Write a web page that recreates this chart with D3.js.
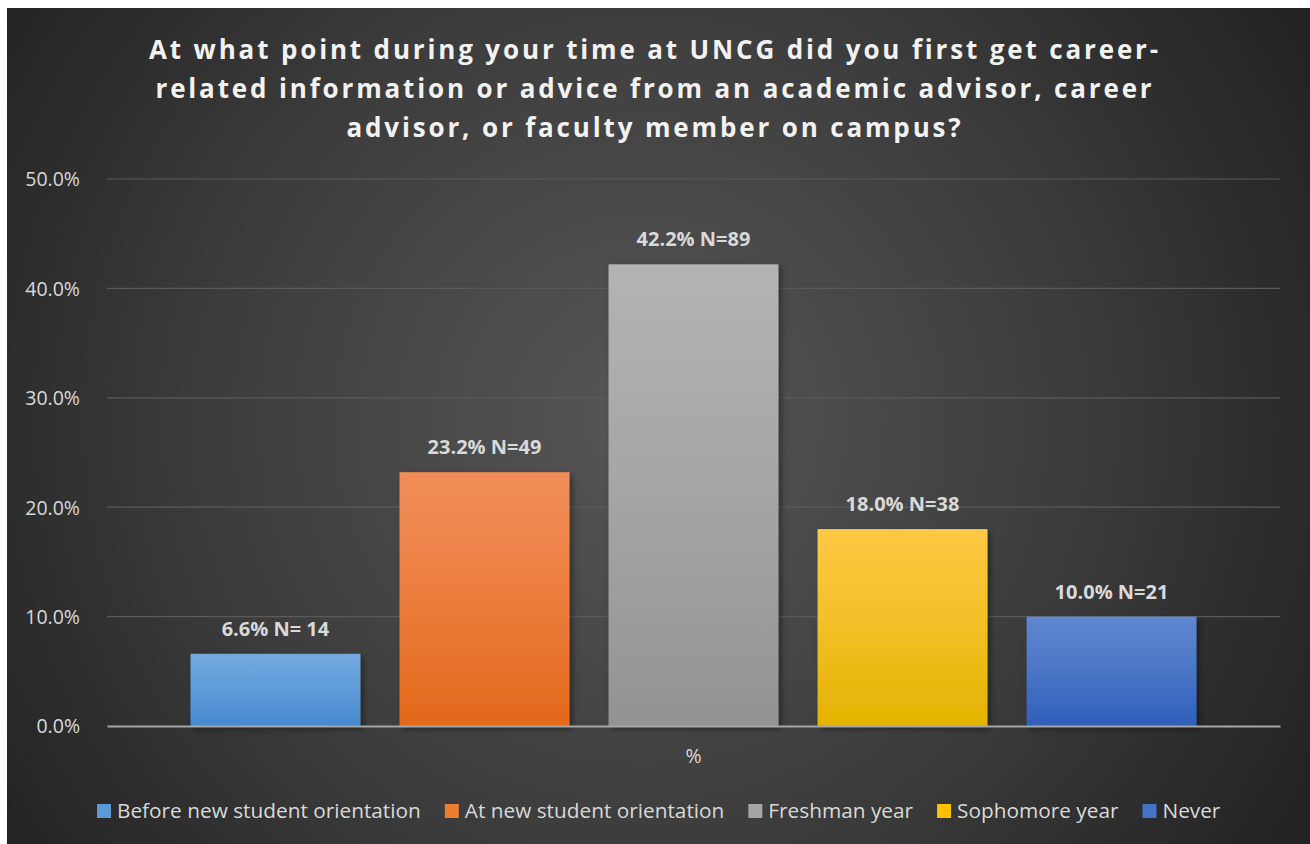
<!DOCTYPE html>
<html><head><meta charset="utf-8">
<script src="https://cdn.jsdelivr.net/npm/d3@7"></script>
<style>html,body{margin:0;padding:0;background:#fff;}svg{display:block;}</style>
</head><body>
<script>
const categories = ["Before new student orientation","At new student orientation","Freshman year","Sophomore year","Never"];
const values = [6.6, 23.2, 42.2, 18.0, 10.0];
const counts = ["N= 14","N=49","N=89","N=38","N=21"];
const yTicks = [0,10,20,30,40,50];
const xCategory = ["%"];
const titleLines = ["At what point during your time at UNCG did you first get career-","related information or advice from an academic advisor, career","advisor, or faculty member on campus?"];
const colorsTop = ["#72a9e0","#f28e5a","#b3b3b3","#ffc845","#6087d0"];
const colorsBot = ["#4689cf","#e3681a","#939393","#e3b300","#2e5fbb"];
const legendColors = ["#5b9bd5","#ed7d31","#a5a5a5","#ffc000","#4472c4"];

(function(){
const W=1310,H=844;
const svg=d3.select("body").append("svg").attr("width",W).attr("height",H);
const defs=svg.append("defs");
const rg=defs.append("radialGradient").attr("id","bg").attr("gradientUnits","userSpaceOnUse")
  .attr("cx",640).attr("cy",420).attr("r",760);
rg.append("stop").attr("offset","0").attr("stop-color","#565656");
rg.append("stop").attr("offset","0.55").attr("stop-color","#3d3d3d");
rg.append("stop").attr("offset","1").attr("stop-color","#232323");
const sh=defs.append("filter").attr("id","sh").attr("x","-10%").attr("y","-10%").attr("width","130%").attr("height","130%");
sh.append("feDropShadow").attr("dx",3).attr("dy",3).attr("stdDeviation",3).attr("flood-color","#000").attr("flood-opacity",0.4);
categories.forEach((c,i)=>{
  const g=defs.append("linearGradient").attr("id","g"+i).attr("x1",0).attr("y1",0).attr("x2",0).attr("y2",1);
  g.append("stop").attr("offset","0").attr("stop-color",colorsTop[i]);
  g.append("stop").attr("offset","0.5").attr("stop-color",d3.interpolateRgb(colorsTop[i],colorsBot[i])(0.45));
  g.append("stop").attr("offset","1").attr("stop-color",colorsBot[i]);
});

svg.append("rect").attr("x",7).attr("y",8).attr("width",W-7).attr("height",H-8).attr("fill","url(#bg)");

const font="'Open Sans','Noto Sans',sans-serif";
svg.append("g").selectAll("text").data(titleLines).join("text")
  .attr("x",655).attr("y",(d,i)=>59+i*39).attr("text-anchor","middle")
  .attr("font-family",font).attr("font-weight",700).attr("font-size",26).attr("letter-spacing",2.85)
  .attr("fill","#f2f2f2").text(d=>d);

const pL=107,pR=1280,pT=179,pB=726;
const y=d3.scaleLinear().domain([0,50]).range([pB,pT]);
const x0=d3.scaleBand().domain(xCategory).range([pL,pR]).paddingInner(0).paddingOuter(0.083);
const x1=d3.scaleBand().domain(categories).range([0,x0.bandwidth()]).paddingInner(0.187).paddingOuter(0);

svg.append("g").selectAll("line").data(yTicks.filter(t=>t>0)).join("line")
  .attr("x1",pL).attr("x2",pR).attr("y1",d=>y(d)).attr("y2",d=>y(d))
  .attr("stroke","#5a5a5a").attr("stroke-width",1.2);

const yAxis=svg.append("g").attr("transform",`translate(${pL-24},0)`)
  .call(d3.axisLeft(y).tickValues(yTicks).tickSize(0).tickFormat(d=>d3.format(".1f")(d)+"%"));
yAxis.select(".domain").remove();
yAxis.selectAll("text").attr("font-family",font).attr("font-size",19.5).attr("fill","#d9d9d9").attr("dy","0.35em");

const gb=svg.append("g").attr("transform",`translate(${x0("%")},0)`);
gb.selectAll("rect").data(values).join("rect")
  .attr("x",(d,i)=>x1(categories[i])).attr("width",x1.bandwidth())
  .attr("y",d=>y(d)).attr("height",d=>pB-y(d))
  .attr("fill",(d,i)=>`url(#g${i})`).attr("filter","url(#sh)");
gb.selectAll("text").data(values).join("text")
  .attr("x",(d,i)=>x1(categories[i])+x1.bandwidth()/2).attr("y",d=>y(d)-18)
  .attr("text-anchor","middle").attr("font-family",font).attr("font-weight",700).attr("font-size",20)
  .attr("fill","#d9d9d9").text((d,i)=>d3.format(".1f")(d)+"% "+counts[i]);

const xAxis=svg.append("g").attr("transform",`translate(0,${pB})`)
  .call(d3.axisBottom(x0).tickSize(0).tickPadding(23));
xAxis.select(".domain").attr("stroke","#a6a6a6").attr("stroke-width",2);
xAxis.selectAll("text").attr("font-family",font).attr("font-size",19.5).attr("fill","#d9d9d9");

const lg=svg.append("g").attr("font-family",font).attr("font-size",20.8).attr("fill","#d9d9d9");
let lx=97;
const legendY=811;
categories.forEach((c,i)=>{
  lg.append("rect").attr("x",lx).attr("y",legendY-7).attr("width",14).attr("height",14).attr("fill",legendColors[i]);
  const t=lg.append("text").attr("x",lx+20).attr("y",legendY).attr("dy","0.35em").attr("fill","#d9d9d9").text(c);
  lx+=20+t.node().getComputedTextLength()+24;
});
})();
</script>
</body></html>
